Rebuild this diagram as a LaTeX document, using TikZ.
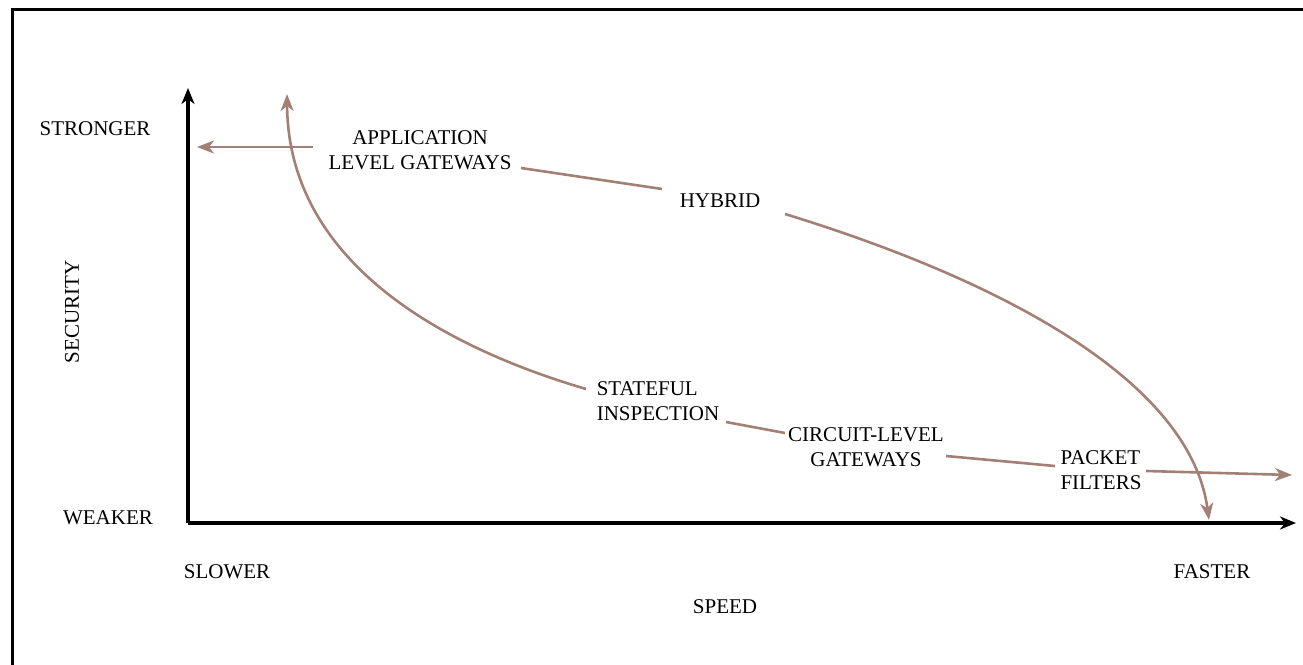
\documentclass[tikz,border=0pt]{standalone}
\usepackage{fontspec}
\setmainfont{Liberation Serif}
\usetikzlibrary{arrows.meta}
\definecolor{brn}{RGB}{163,128,118}
\tikzset{
  lbl/.style={font=\fontsize{21}{25}\selectfont, inner sep=0pt, text=black},
  axisline/.style={line width=3.2pt, black, -{Stealth[length=16pt,width=13pt,inset=5pt]}},
  curveline/.style={line width=2.6pt, brn},
  brntip/.style={-{Stealth[length=17pt,width=13pt,inset=5pt]}},
  frameline/.style={line width=3pt, black}
}
\begin{document}
\begin{tikzpicture}[x=1pt,y=-1pt]
\useasboundingbox (0,0) rectangle (1303,664);
% frame
\draw[frameline] (12,670) -- (12,9) -- (1310,9);
% labels
\node[lbl] (strong) at (95,129) {STRONGER};
\node[lbl] (weak) at (108,518) {WEAKER};
\node[lbl] (slow) at (227,572) {SLOWER};
\node[lbl] (fast) at (1212,572) {FASTER};
\node[lbl] (speed) at (725,607) {SPEED};
\node[lbl,rotate=90] (sec) at (72,312) {SECURITY};
\node[lbl,align=center] (app) at (420,150) {APPLICATION\\LEVEL GATEWAYS};
\node[lbl] (hybrid) at (720,201) {HYBRID};
\node[lbl,align=left] (stateful) at (658,401) {STATEFUL\\INSPECTION};
\node[lbl,align=center] (circuit) at (866,447) {CIRCUIT-LEVEL\\GATEWAYS};
\node[lbl,align=left] (packet) at (1101,470) {PACKET\\FILTERS};
% axes
\coordinate (origin) at (188,523);
\coordinate (ytip) at (188,88);
\coordinate (xtip) at (1296,523);
\draw[axisline] (origin) -- (ytip);
\draw[axisline] (origin) -- (xtip);
% upper curve (application / hybrid)
\coordinate (a0) at (197,147);
\coordinate (a1) at (313,147);
\coordinate (b0) at (521,168);
\coordinate (b1) at (662,189);
\coordinate (c0) at (785,214);
\coordinate (c1) at (1209,520);
\draw[curveline,brntip] (a1) -- (a0);
\draw[curveline] (b0) -- (b1);
\draw[curveline,brntip] (c0) .. controls (1000,280) and (1190,380) .. (c1);
% lower curve (stateful / circuit / packet)
\coordinate (d0) at (287,94);
\coordinate (d1) at (586,389);
\coordinate (e0) at (726,422);
\coordinate (e1) at (785,433);
\coordinate (f0) at (946,456);
\coordinate (f1) at (1055,466);
\coordinate (g0) at (1146,471);
\coordinate (g1) at (1292,475);
\draw[curveline,brntip] (d1) .. controls (420,340) and (288,250) .. (d0);
\draw[curveline] (e0) -- (e1);
\draw[curveline] (f0) -- (f1);
\draw[curveline,brntip] (g0) -- (g1);
\end{tikzpicture}
\end{document}
